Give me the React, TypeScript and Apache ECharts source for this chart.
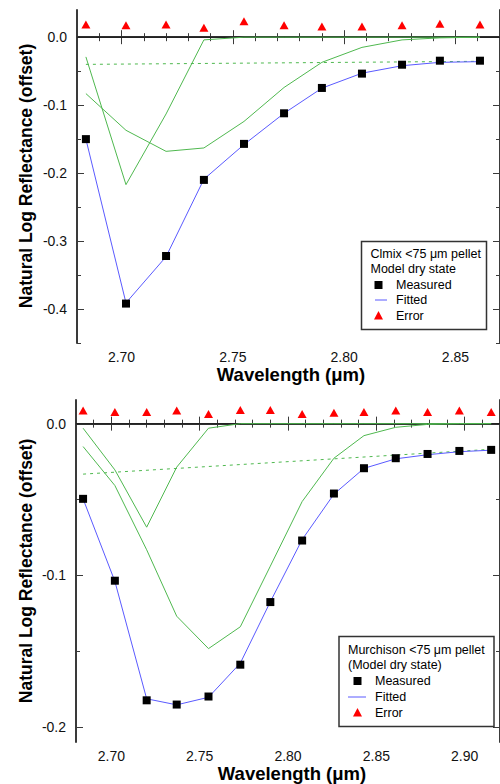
import React, { useEffect, useRef } from "react";
import * as echarts from "echarts";

// ---------- data ----------
const wavelengths = [2.684, 2.702, 2.72, 2.737, 2.755, 2.773, 2.79, 2.808, 2.826, 2.843, 2.861, 2.879, 2.897, 2.915];

// Clmix panel (11 points)
const clmixMeasured = [-0.15, -0.392, -0.322, -0.21, -0.157, -0.112, -0.0747, -0.0536, -0.0405, -0.0346, -0.0346];
const clmixFitted = [-0.15, -0.391, -0.323, -0.209, -0.158, -0.112, -0.075, -0.053, -0.042, -0.037, -0.036];
const clmixError = [0.0186, 0.0176, 0.0186, 0.0137, 0.0234, 0.0176, 0.0157, 0.0157, 0.0176, 0.0196, 0.0186];
const clmixBandA = [-0.029, -0.217, -0.113, -0.004, 0, 0, 0, 0, 0, 0, 0];
const clmixBandB = [-0.083, -0.137, -0.168, -0.163, -0.124, -0.074, -0.037, -0.015, -0.004, -0.001, 0];
const clmixBaselineX = [2.684, 2.861];
const clmixBaselineY = [-0.04, -0.0355];

// Murchison panel (14 points)
const murchMeasured = [-0.0496, -0.1036, -0.1825, -0.1853, -0.18, -0.159, -0.1177, -0.0771, -0.0461, -0.0294, -0.0228, -0.02, -0.018, -0.0173];
const murchFitted = [-0.0496, -0.104, -0.1815, -0.1855, -0.1805, -0.158, -0.1175, -0.0765, -0.0465, -0.0295, -0.0232, -0.0205, -0.0185, -0.0175];
const murchError = [0.0086, 0.0077, 0.0077, 0.0086, 0.0064, 0.009, 0.009, 0.0064, 0.0072, 0.0077, 0.0086, 0.0077, 0.0086, 0.0077];
const murchBandA = [-0.003, -0.0305, -0.0683, -0.0287, -0.003, 0, 0, 0, 0, 0, 0, 0, 0, 0];
const murchBandB = [-0.0151, -0.0408, -0.0832, -0.127, -0.1484, -0.134, -0.094, -0.0514, -0.0228, -0.0079, -0.0024, -0.0005, 0, 0];
const murchBaselineX = [2.684, 2.915];
const murchBaselineY = [-0.0333, -0.0169];

// ticks
const topXMajor = [2.7, 2.75, 2.8, 2.85];
const topXMinor = [2.68, 2.69, 2.71, 2.72, 2.73, 2.74, 2.76, 2.77, 2.78, 2.79, 2.81, 2.82, 2.83, 2.84, 2.86, 2.87];
const topYMajor = [-0.4, -0.3, -0.2, -0.1, 0.0];
const topYMinor = [-0.45, -0.35, -0.25, -0.15, -0.05];
const botXMajor = [2.7, 2.75, 2.8, 2.85, 2.9];
const botXMinor = [2.68, 2.69, 2.71, 2.72, 2.73, 2.74, 2.76, 2.77, 2.78, 2.79, 2.81, 2.82, 2.83, 2.84, 2.86, 2.87, 2.88, 2.89, 2.91, 2.92];
const botYMajor = [-0.2, -0.1, 0.0];
const botYMinor = [-0.15, -0.05];

const FONT = "'Liberation Sans', Arial, sans-serif";
const AXIS_COLOR = "#3a3a3a";
const GREEN = "#4fb84f";
const BLUE = "#5a5aff";

const pairs = (xs: number[], ys: number[]) => ys.map((y, i) => [xs[i], y]);

function axesFor(grid: number, min: number, max: number, major: number[], minor: number[], isX: boolean, labelFmt: (v: number) => string, labelMargin: number) {
  const common = {
    gridIndex: grid,
    type: "value",
    min,
    max,
    splitLine: { show: false },
  };
  const posA = isX ? "bottom" : "left";
  const posB = isX ? "top" : "right";
  const line = { show: true, lineStyle: { color: AXIS_COLOR, width: 2 } };
  return [
    {
      ...common,
      position: posA,
      axisLine: line,
      axisTick: { show: true, inside: true, length: 7, customValues: major, lineStyle: { color: AXIS_COLOR, width: 1 } },
      axisLabel: { show: true, customValues: major, formatter: labelFmt, color: "#111", fontSize: 14, fontFamily: FONT, margin: labelMargin },
    },
    {
      ...common,
      position: posA,
      axisLine: { show: false },
      axisTick: { show: true, inside: true, length: 4, customValues: minor, lineStyle: { color: AXIS_COLOR, width: 1 } },
      axisLabel: { show: false },
    },
    {
      ...common,
      position: posB,
      axisLine: line,
      axisTick: { show: true, inside: true, length: 7, customValues: major, lineStyle: { color: AXIS_COLOR, width: 1 } },
      axisLabel: { show: false },
    },
    {
      ...common,
      position: posB,
      axisLine: { show: false },
      axisTick: { show: true, inside: true, length: 4, customValues: minor, lineStyle: { color: AXIS_COLOR, width: 1 } },
      axisLabel: { show: false },
    },
  ];
}

function panelSeries(ax: number, xs: number[], xmin: number, xmax: number, measured: number[], fitted: number[], error: number[], bandA: number[], bandB: number[], bx: number[], by: number[]) {
  const base = { xAxisIndex: ax, yAxisIndex: ax, animation: false, silent: true };
  const n = measured.length;
  const wl = xs.slice(0, n);
  return [
    {
      ...base,
      type: "line",
      data: [[xmin, 0], [xmax, 0]],
      symbol: "none",
      lineStyle: { color: "#222", width: 1.5 },
      z: 1,
    },
    {
      ...base,
      type: "line",
      data: pairs(bx, by),
      symbol: "none",
      lineStyle: { color: GREEN, width: 1, type: [3, 4] },
      z: 2,
    },
    {
      ...base,
      type: "line",
      data: pairs(wl, bandA),
      symbol: "none",
      lineStyle: { color: GREEN, width: 1 },
      z: 2,
    },
    {
      ...base,
      type: "line",
      data: pairs(wl, bandB),
      symbol: "none",
      lineStyle: { color: GREEN, width: 1 },
      z: 2,
    },
    {
      ...base,
      type: "line",
      data: pairs(wl, fitted),
      symbol: "none",
      lineStyle: { color: BLUE, width: 1 },
      z: 3,
    },
    {
      ...base,
      type: "scatter",
      data: pairs(wl, measured),
      symbol: "rect",
      symbolSize: 8,
      itemStyle: { color: "#000", opacity: 1 },
      z: 4,
    },
    {
      ...base,
      type: "scatter",
      data: pairs(wl, error),
      symbol: "triangle",
      symbolSize: [9, 8],
      itemStyle: { color: "#ff0000", opacity: 1 },
      z: 4,
    },
  ];
}

function legend(x: number, y: number, w: number, h: number, title1: string, title2: string, rows: number[], textX: number, symX: number, lineX1: number, lineX2: number) {
  const ts = { fontSize: 12.5, fontFamily: FONT, fill: "#000", verticalAlign: "middle", align: "left" };
  return [
    { type: "rect", shape: { x, y, width: w, height: h }, style: { fill: "#fff", stroke: "#333", lineWidth: 1.5 }, z: 10 },
    { type: "text", x: x + 9, y: rows[0], style: { ...ts, text: title1 }, z: 11 },
    { type: "text", x: x + 9, y: rows[1], style: { ...ts, text: title2 }, z: 11 },
    { type: "rect", shape: { x: symX - 4, y: rows[2] - 4, width: 8, height: 8 }, style: { fill: "#000" }, z: 11 },
    { type: "text", x: textX, y: rows[2], style: { ...ts, text: "Measured" }, z: 11 },
    { type: "line", shape: { x1: lineX1, y1: rows[3], x2: lineX2, y2: rows[3] }, style: { stroke: BLUE, lineWidth: 1 }, z: 11 },
    { type: "text", x: textX, y: rows[3], style: { ...ts, text: "Fitted" }, z: 11 },
    { type: "polygon", shape: { points: [[symX, rows[4] - 4.5], [symX + 4.5, rows[4] + 4], [symX - 4.5, rows[4] + 4]] }, style: { fill: "#ff0000" }, z: 11 },
    { type: "text", x: textX, y: rows[4], style: { ...ts, text: "Error" }, z: 11 },
  ];
}

export default function App() {
  const ref = useRef<HTMLDivElement>(null);
  useEffect(() => {
    if (!ref.current) return;
    const chart = echarts.init(ref.current, null, { renderer: "svg" });
    const xFmt = (v: number) => v.toFixed(2);
    const yFmt = (v: number) => v.toFixed(1);

    const xAxes = [
      ...axesFor(0, 2.68, 2.87, topXMajor, topXMinor, true, xFmt, 7),
      ...axesFor(1, 2.68, 2.92, botXMajor, botXMinor, true, xFmt, 7),
    ];
    const yAxes = [
      ...axesFor(0, -0.45, 0.04, topYMajor, topYMinor, false, yFmt, 10),
      ...axesFor(1, -0.21, 0.0156, botYMajor, botYMinor, false, yFmt, 10),
    ];

    const titleStyle = { fontSize: 18.5, fontWeight: "bold", fontFamily: FONT, fill: "#000", align: "center", verticalAlign: "middle" };
    const yTitleStyle = { ...titleStyle, fontSize: 17.5 };

    chart.setOption({
      animation: false,
      backgroundColor: "#fff",
      grid: [
        { left: 77, top: 10, width: 427, height: 333 },
        { left: 76, top: 400, width: 432, height: 342 },
      ],
      xAxis: xAxes,
      yAxis: yAxes,
      series: [
        ...panelSeries(0, wavelengths, 2.68, 2.87, clmixMeasured, clmixFitted, clmixError, clmixBandA, clmixBandB, clmixBaselineX, clmixBaselineY),
        ...panelSeries(4, wavelengths, 2.68, 2.92, murchMeasured, murchFitted, murchError, murchBandA, murchBandB, murchBaselineX, murchBaselineY),
      ],
      graphic: [
        ...legend(361.5, 241.5, 125, 88, "Clmix <75 \u03bcm pellet", "Model dry state", [254, 269, 285, 300, 315.5], 396, 378.5, 375, 387),
        ...legend(339, 636.5, 155, 90, "Murchison <75 \u03bcm pellet", "(Model dry state)", [650, 665, 681, 697, 712.5], 375, 357.5, 348, 366),
        { type: "text", x: 291, y: 374, style: { ...titleStyle, text: "Wavelength (\u03bcm)" } },
        { type: "text", x: 292, y: 773, style: { ...titleStyle, text: "Wavelength (\u03bcm)" } },
        { type: "text", x: 26, y: 176, rotation: Math.PI / 2, style: { ...yTitleStyle, text: "Natural Log Reflectance (offset)" } },
        { type: "text", x: 26, y: 571, rotation: Math.PI / 2, style: { ...yTitleStyle, text: "Natural Log Reflectance (offset)" } },
      ],
    });
    return () => chart.dispose();
  }, []);
  return <div ref={ref} style={{ position: "absolute", left: 0, top: 0, width: 500, height: 784, overflow: "hidden" }} />;
}
